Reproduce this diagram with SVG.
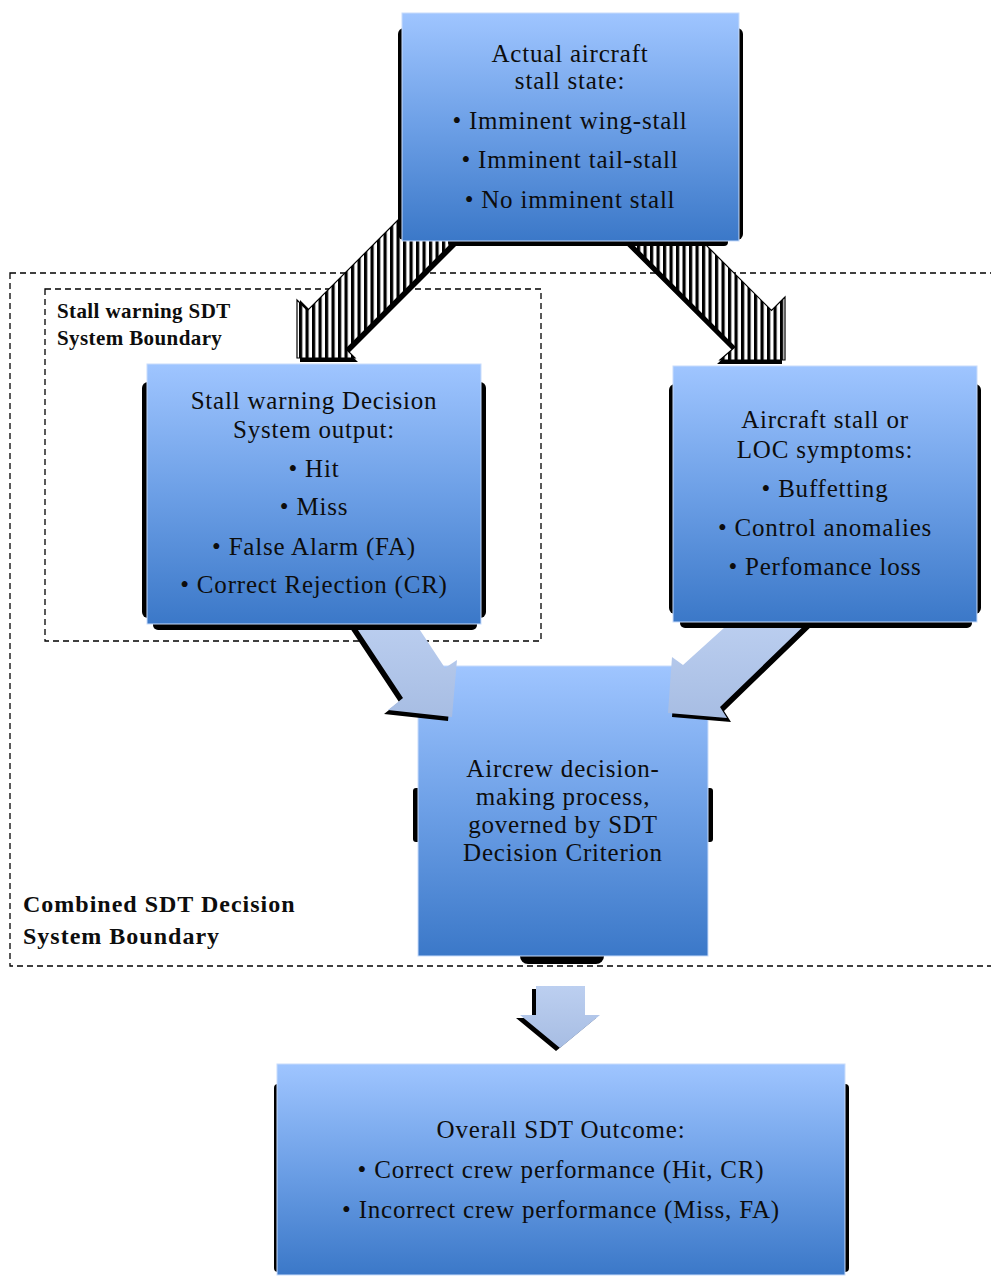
<svg xmlns="http://www.w3.org/2000/svg" width="991" height="1276" viewBox="0 0 991 1276">
<defs>
<linearGradient id="boxg" x1="0" y1="0" x2="0" y2="1">
<stop offset="0" stop-color="#9fc5ff"/>
<stop offset="0.5" stop-color="#6c9fe6"/>
<stop offset="1" stop-color="#3b78c8"/>
</linearGradient>
<linearGradient id="arrg" x1="0" y1="0" x2="0" y2="1">
<stop offset="0" stop-color="#bccff0"/>
<stop offset="1" stop-color="#a7bde3"/>
</linearGradient>
<pattern id="stripes" width="6.5" height="10" patternUnits="userSpaceOnUse">
<rect width="6.5" height="10" fill="#ffffff"/>
<rect width="3.2" height="10" fill="#000000"/>
</pattern>
<style>
.box{fill:url(#boxg);stroke:#c8dcfb;stroke-width:1}
.shadow{fill:#000000}
.t{font-family:"Liberation Serif","Times New Roman",serif;font-size:25px;fill:#0d0d0d;text-anchor:middle;letter-spacing:0.8px}
.lab{font-family:"Liberation Serif","Times New Roman",serif;font-weight:bold;fill:#0d0d0d}
.dash{fill:none;stroke:#000000;stroke-width:1.3;stroke-dasharray:6 4}
.stripe{fill:url(#stripes);stroke:#000000;stroke-width:1.2}
.blue-arrow{fill:url(#arrg);stroke:none}
</style>
</defs>
<rect width="991" height="1276" fill="#ffffff"/>

<g id="combined-boundary">
<rect class="dash" x="10" y="273" width="985" height="693"/>
<text class="lab" x="23" y="912" font-size="24" letter-spacing="1">Combined SDT Decision</text>
<text class="lab" x="23" y="944" font-size="24" letter-spacing="1">System Boundary</text>
</g>
<g id="stall-warning-boundary">
<rect class="dash" x="45" y="289" width="496" height="352"/>
<text class="lab" x="57" y="318" font-size="21" letter-spacing="0.4">Stall warning SDT</text>
<text class="lab" x="57" y="345" font-size="21" letter-spacing="0.4">System Boundary</text>
</g>

<g id="node-aircrew">
<rect class="shadow" x="413" y="788" width="300" height="54" rx="3"/>
<rect class="shadow" x="520" y="948" width="84" height="16" rx="8"/>
<rect class="box" x="418" y="666" width="290" height="290"/>
<text class="t" x="563" y="777">Aircrew decision-</text>
<text class="t" x="563" y="805">making process,</text>
<text class="t" x="563" y="833">governed by SDT</text>
<text class="t" x="563" y="861">Decision Criterion</text>
</g>

<g id="connectors">
<!-- striped arrows from top box -->
<polygon class="shadow" points="431,190 310.5,310.5 300,300 300,362 358,362 349,353 509,193"/>
<polygon class="stripe" points="428,190 307.5,310.5 297,300 297,358 355,358 346,349 505,190"/>
<polygon class="shadow" points="648,194 768.5,314.5 782,301 782,364 717,364 732,350 575,194"/>
<polygon class="stripe" points="651,190 771.5,310.5 785,297 785,360 720,360 735,347 578,190" stroke="#3d6db0"/>
<!-- blue arrows into aircrew box -->
<polygon class="shadow" points="346,622 399,702 384,714 448,721 453,664 441,672 408,622"/>
<polygon class="blue-arrow" points="350,618 403,698 388,710 452,717 457,660 445,668 412,618"/>
<polygon class="shadow" points="816,622 724,711 731,722 672,717 676,661 687,669 739,622"/>
<polygon class="blue-arrow" points="812,618 720,707 727,718 668,713 672,657 683,665 735,618"/>
<!-- down arrow to outcome -->
<polygon class="shadow" points="532,989 580,989 580,1018 596,1018 556,1051 516,1018 532,1018"/>
<polygon class="blue-arrow" points="536,986 585,986 585,1015 600,1015 560,1048 520,1015 536,1015"/>
</g>

<g id="node-actual">
<rect class="shadow" x="398" y="28" width="345" height="212" rx="6"/>
<rect class="shadow" x="448" y="234" width="280" height="12" rx="4"/>
<rect class="box" x="402" y="13" width="337" height="228"/>
<text class="t" x="570" y="62">Actual aircraft</text>
<text class="t" x="570" y="89">stall state:</text>
<text class="t" x="570" y="129">• Imminent wing-stall</text>
<text class="t" x="570" y="168">• Imminent tail-stall</text>
<text class="t" x="570" y="208">• No imminent stall</text>
</g>

<g id="node-stall-warning">
<rect class="shadow" x="142" y="382" width="344" height="236" rx="6"/>
<rect class="shadow" x="153" y="616" width="324" height="14" rx="5"/>
<rect class="box" x="147" y="364" width="334" height="260"/>
<text class="t" x="314" y="409">Stall warning Decision</text>
<text class="t" x="314" y="438">System output:</text>
<text class="t" x="314" y="477">• Hit</text>
<text class="t" x="314" y="515">• Miss</text>
<text class="t" x="314" y="555">• False Alarm (FA)</text>
<text class="t" x="314" y="593">• Correct Rejection (CR)</text>
</g>

<g id="node-symptoms">
<rect class="shadow" x="669" y="384" width="312" height="230" rx="6"/>
<rect class="shadow" x="680" y="614" width="292" height="14" rx="5"/>
<rect class="box" x="673" y="366" width="304" height="256"/>
<text class="t" x="825" y="428">Aircraft stall or</text>
<text class="t" x="825" y="458">LOC symptoms:</text>
<text class="t" x="825" y="497">• Buffetting</text>
<text class="t" x="825" y="536">• Control anomalies</text>
<text class="t" x="825" y="575">• Perfomance loss</text>
</g>

<g id="node-outcome">
<rect class="shadow" x="274" y="1084" width="575" height="188" rx="4"/>
<rect class="box" x="277" y="1064" width="568" height="211"/>
<text class="t" x="561" y="1138">Overall SDT Outcome:</text>
<text class="t" x="561" y="1178">• Correct crew performance (Hit, CR)</text>
<text class="t" x="561" y="1218">• Incorrect crew performance (Miss, FA)</text>
</g>
</svg>
